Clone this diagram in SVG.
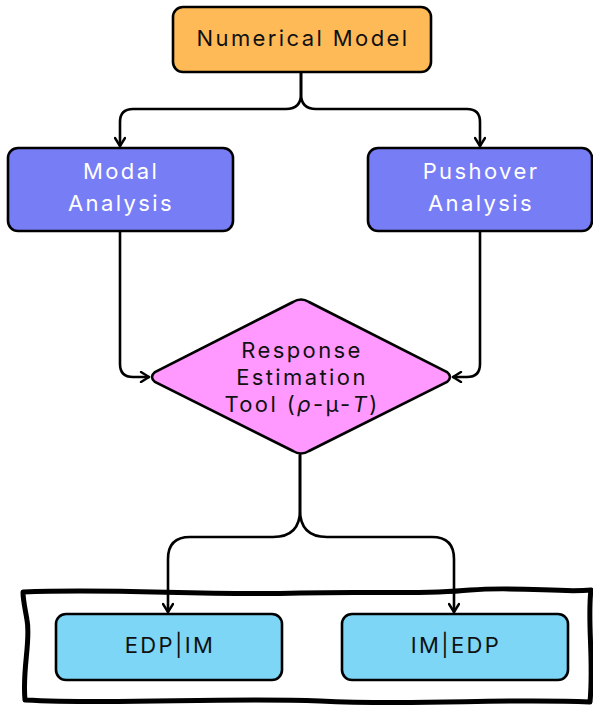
<svg xmlns="http://www.w3.org/2000/svg" width="593" height="708" viewBox="0 0 593 708">
  <defs>
    <style>
      .box { stroke: #000; stroke-width: 2.6; }
      .lbl { font-family: Inter, "Open Sans", "Liberation Sans", sans-serif; font-size: 22px; letter-spacing: 2.4px; text-anchor: middle; }
      .dark { fill: #111; }
      .light { fill: #fff; }
      .edge { fill: none; stroke: #000; stroke-width: 2.6; stroke-linejoin: round; stroke-linecap: round; }
    </style>
    <marker id="arrow" viewBox="0 0 12 12" refX="11" refY="6" markerWidth="12" markerHeight="12" markerUnits="userSpaceOnUse" orient="auto">
      <path d="M3,1 L11,6 L3,11" fill="none" stroke="#000" stroke-width="2.4" stroke-linecap="round" stroke-linejoin="round"/>
    </marker>
  </defs>

  <rect width="593" height="708" fill="#fff"/>

  <!-- hand-drawn frame around the outputs -->
  <path d="M23,592 C120,588 200,596 300,593 C380,591 420,595 470,590 C520,586 560,593 591,590
           C587,620 594,660 590,702
           C500,698 420,706 320,701 C220,697 120,705 25,700
           C22,670 31,640 27,620 C25,608 23,600 23,592 Z"
        fill="none" stroke="#000" stroke-width="5" stroke-linejoin="round"/>

  <g id="connectors">
    <path class="edge" d="M301,72 V94 Q301,109 286,109 H133 Q120,109 120,122 V146" marker-end="url(#arrow)"/>
    <path class="edge" d="M301,72 V94 Q301,109 316,109 H467 Q480,109 480,122 V146" marker-end="url(#arrow)"/>
    <path class="edge" d="M120,231 V364 Q120,377 133,377 H149" marker-end="url(#arrow)"/>
    <path class="edge" d="M480,231 V364 Q480,377 467,377 H453" marker-end="url(#arrow)"/>
    <path class="edge" d="M300,455 V510 Q300,537 273,537 H190 Q168,537 168,559 V612" marker-end="url(#arrow)"/>
    <path class="edge" d="M300,455 V510 Q300,537 327,537 H432 Q454,537 454,559 V612" marker-end="url(#arrow)"/>
  </g>

  <g id="numerical-model">
    <rect class="box" x="173" y="7" width="258" height="65" rx="10" fill="#FEBA57"/>
    <text class="lbl dark" x="303" y="46">Numerical Model</text>
  </g>

  <g id="modal-analysis">
    <rect class="box" x="8" y="148" width="225" height="83" rx="10" fill="#777DF5"/>
    <text class="lbl light" x="121" y="179">Modal</text>
    <text class="lbl light" x="121" y="211">Analysis</text>
  </g>

  <g id="pushover-analysis">
    <rect class="box" x="368" y="148" width="224" height="83" rx="10" fill="#777DF5"/>
    <text class="lbl light" x="481" y="179">Pushover</text>
    <text class="lbl light" x="481" y="211">Analysis</text>
  </g>

  <g id="response-estimation">
    <path class="box" d="M293,302 Q301,297 309,302 L447,372 Q453,377 447,382 L309,451 Q301,456 293,451 L155,382 Q149,377 155,372 Z" fill="#FF99FF"/>
    <text class="lbl dark" x="302" y="358">Response</text>
    <text class="lbl dark" x="302" y="385">Estimation</text>
    <text class="lbl dark" x="302" y="412">Tool (<tspan font-style="italic">ρ</tspan>-µ-<tspan font-style="italic">T</tspan>)</text>
  </g>

  <g id="edp-im">
    <rect class="box" x="56" y="614" width="226" height="66" rx="10" fill="#7DD6F5"/>
    <text class="lbl dark" x="170" y="653">EDP|IM</text>
  </g>

  <g id="im-edp">
    <rect class="box" x="342" y="614" width="226" height="66" rx="10" fill="#7DD6F5"/>
    <text class="lbl dark" x="456" y="653">IM|EDP</text>
  </g>
</svg>
